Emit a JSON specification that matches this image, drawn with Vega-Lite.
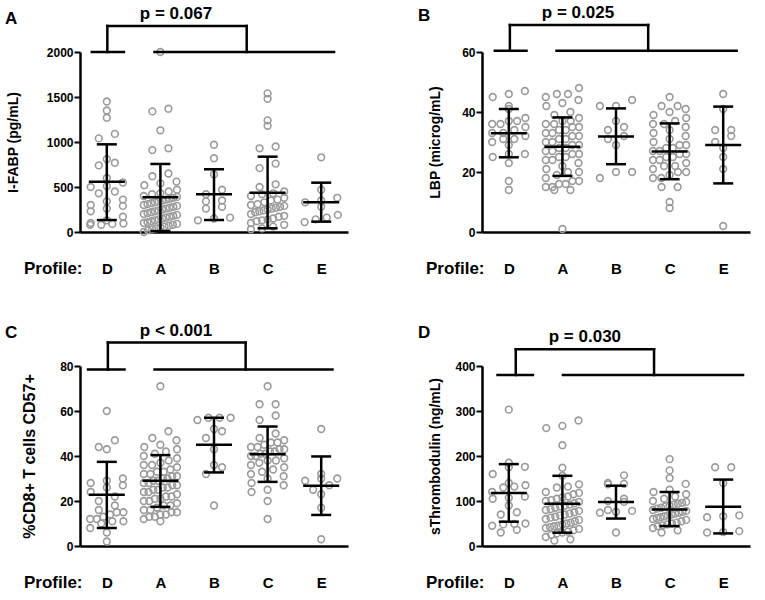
{
  "$schema": "https://vega.github.io/schema/vega-lite/v6.json",
  "padding": {"left": 5, "top": 3, "right": 5, "bottom": 5},
  "columns": 2,
  "bounds": "flush",
  "spacing": {"row": 134, "column": 134},
  "datasets": {
    "fabp": [
      {"group":"D","value":1450},{"group":"D","value":1350},{"group":"D","value":1270},{"group":"D","value":1090},{"group":"D","value":1040},{"group":"D","value":810},{"group":"D","value":770},{"group":"D","value":740},{"group":"D","value":600},{"group":"D","value":550},{"group":"D","value":510},{"group":"D","value":500},{"group":"D","value":450},{"group":"D","value":430},{"group":"D","value":360},{"group":"D","value":340},{"group":"D","value":300},{"group":"D","value":290},{"group":"D","value":260},{"group":"D","value":230},{"group":"D","value":170},{"group":"D","value":130},{"group":"D","value":100},{"group":"D","value":95},{"group":"D","value":90},{"group":"D","value":80},{"group":"D","value":80},
      {"group":"A","value":2000},{"group":"A","value":1370},{"group":"A","value":1340},{"group":"A","value":1130},{"group":"A","value":930},{"group":"A","value":910},{"group":"A","value":650},{"group":"A","value":620},{"group":"A","value":560},{"group":"A","value":540},{"group":"A","value":520},{"group":"A","value":470},{"group":"A","value":450},{"group":"A","value":430},{"group":"A","value":420},{"group":"A","value":400},{"group":"A","value":390},{"group":"A","value":380},{"group":"A","value":370},{"group":"A","value":360},{"group":"A","value":350},{"group":"A","value":340},{"group":"A","value":330},{"group":"A","value":320},{"group":"A","value":310},{"group":"A","value":300},{"group":"A","value":290},{"group":"A","value":280},{"group":"A","value":270},{"group":"A","value":260},{"group":"A","value":250},{"group":"A","value":240},{"group":"A","value":230},{"group":"A","value":220},{"group":"A","value":210},{"group":"A","value":200},{"group":"A","value":190},{"group":"A","value":180},{"group":"A","value":170},{"group":"A","value":160},{"group":"A","value":150},{"group":"A","value":140},{"group":"A","value":130},{"group":"A","value":120},{"group":"A","value":110},{"group":"A","value":100},{"group":"A","value":90},{"group":"A","value":80},{"group":"A","value":70},{"group":"A","value":60},{"group":"A","value":50},{"group":"A","value":40},{"group":"A","value":30},{"group":"A","value":20},{"group":"A","value":0},
      {"group":"B","value":970},{"group":"B","value":820},{"group":"B","value":640},{"group":"B","value":470},{"group":"B","value":420},{"group":"B","value":350},{"group":"B","value":340},{"group":"B","value":280},{"group":"B","value":260},{"group":"B","value":160},{"group":"B","value":150},{"group":"B","value":130},
      {"group":"C","value":1540},{"group":"C","value":1480},{"group":"C","value":1240},{"group":"C","value":1180},{"group":"C","value":950},{"group":"C","value":930},{"group":"C","value":760},{"group":"C","value":710},{"group":"C","value":530},{"group":"C","value":500},{"group":"C","value":450},{"group":"C","value":430},{"group":"C","value":420},{"group":"C","value":400},{"group":"C","value":380},{"group":"C","value":360},{"group":"C","value":350},{"group":"C","value":330},{"group":"C","value":310},{"group":"C","value":300},{"group":"C","value":290},{"group":"C","value":280},{"group":"C","value":270},{"group":"C","value":260},{"group":"C","value":250},{"group":"C","value":240},{"group":"C","value":230},{"group":"C","value":220},{"group":"C","value":200},{"group":"C","value":180},{"group":"C","value":170},{"group":"C","value":150},{"group":"C","value":140},{"group":"C","value":130},{"group":"C","value":120},{"group":"C","value":100},{"group":"C","value":80},{"group":"C","value":60},{"group":"C","value":40},{"group":"C","value":30},
      {"group":"E","value":830},{"group":"E","value":470},{"group":"E","value":380},{"group":"E","value":350},{"group":"E","value":330},{"group":"E","value":280},{"group":"E","value":190},{"group":"E","value":160},{"group":"E","value":140},{"group":"E","value":110}
    ],
    "fabp_stats": [
      {"group":"D","mean":559,"lo":133,"hi":974},
      {"group":"A","mean":385,"lo":10,"hi":756},
      {"group":"B","mean":419,"lo":133,"hi":697},
      {"group":"C","mean":437,"lo":41,"hi":837},
      {"group":"E","mean":330,"lo":115,"hi":548}
    ],
    "lbp": [
      {"group":"D","value":47},{"group":"D","value":46},{"group":"D","value":45},{"group":"D","value":42},{"group":"D","value":41},{"group":"D","value":38},{"group":"D","value":37},{"group":"D","value":37},{"group":"D","value":36},{"group":"D","value":36},{"group":"D","value":35},{"group":"D","value":34},{"group":"D","value":33},{"group":"D","value":33},{"group":"D","value":32},{"group":"D","value":31},{"group":"D","value":31},{"group":"D","value":30},{"group":"D","value":29},{"group":"D","value":26},{"group":"D","value":26},{"group":"D","value":25},{"group":"D","value":23},{"group":"D","value":17},{"group":"D","value":14},
      {"group":"A","value":48},{"group":"A","value":46},{"group":"A","value":46},{"group":"A","value":45},{"group":"A","value":44},{"group":"A","value":43},{"group":"A","value":42},{"group":"A","value":40},{"group":"A","value":39},{"group":"A","value":38},{"group":"A","value":37},{"group":"A","value":37},{"group":"A","value":36},{"group":"A","value":36},{"group":"A","value":35},{"group":"A","value":35},{"group":"A","value":34},{"group":"A","value":34},{"group":"A","value":33},{"group":"A","value":33},{"group":"A","value":32},{"group":"A","value":32},{"group":"A","value":31},{"group":"A","value":31},{"group":"A","value":30},{"group":"A","value":30},{"group":"A","value":29},{"group":"A","value":29},{"group":"A","value":28},{"group":"A","value":28},{"group":"A","value":27},{"group":"A","value":27},{"group":"A","value":26},{"group":"A","value":26},{"group":"A","value":25},{"group":"A","value":25},{"group":"A","value":24},{"group":"A","value":24},{"group":"A","value":23},{"group":"A","value":22},{"group":"A","value":21},{"group":"A","value":20},{"group":"A","value":20},{"group":"A","value":19},{"group":"A","value":18},{"group":"A","value":17},{"group":"A","value":17},{"group":"A","value":16},{"group":"A","value":16},{"group":"A","value":15},{"group":"A","value":15},{"group":"A","value":14},{"group":"A","value":14},{"group":"A","value":1},
      {"group":"B","value":44},{"group":"B","value":42},{"group":"B","value":42},{"group":"B","value":37},{"group":"B","value":35},{"group":"B","value":34},{"group":"B","value":32},{"group":"B","value":31},{"group":"B","value":29},{"group":"B","value":20},{"group":"B","value":20},{"group":"B","value":18},
      {"group":"C","value":45},{"group":"C","value":42},{"group":"C","value":42},{"group":"C","value":41},{"group":"C","value":40},{"group":"C","value":39},{"group":"C","value":38},{"group":"C","value":37},{"group":"C","value":36},{"group":"C","value":36},{"group":"C","value":35},{"group":"C","value":34},{"group":"C","value":33},{"group":"C","value":32},{"group":"C","value":31},{"group":"C","value":30},{"group":"C","value":29},{"group":"C","value":29},{"group":"C","value":28},{"group":"C","value":28},{"group":"C","value":27},{"group":"C","value":27},{"group":"C","value":26},{"group":"C","value":26},{"group":"C","value":25},{"group":"C","value":25},{"group":"C","value":24},{"group":"C","value":24},{"group":"C","value":23},{"group":"C","value":22},{"group":"C","value":22},{"group":"C","value":21},{"group":"C","value":20},{"group":"C","value":20},{"group":"C","value":19},{"group":"C","value":18},{"group":"C","value":18},{"group":"C","value":15},{"group":"C","value":15},{"group":"C","value":10},{"group":"C","value":8},
      {"group":"E","value":46},{"group":"E","value":41},{"group":"E","value":34},{"group":"E","value":34},{"group":"E","value":32},{"group":"E","value":30},{"group":"E","value":28},{"group":"E","value":25},{"group":"E","value":21},{"group":"E","value":2}
    ],
    "lbp_stats": [
      {"group":"D","mean":32.9,"lo":24.9,"hi":41},
      {"group":"A","mean":28.4,"lo":18.7,"hi":38.2},
      {"group":"B","mean":31.8,"lo":22.6,"hi":41.2},
      {"group":"C","mean":26.8,"lo":17.6,"hi":36.2},
      {"group":"E","mean":29,"lo":16.2,"hi":41.8}
    ],
    "cd57": [
      {"group":"D","value":60},{"group":"D","value":47},{"group":"D","value":44},{"group":"D","value":43},{"group":"D","value":30},{"group":"D","value":29},{"group":"D","value":28},{"group":"D","value":27},{"group":"D","value":26},{"group":"D","value":24},{"group":"D","value":22},{"group":"D","value":20},{"group":"D","value":18},{"group":"D","value":16},{"group":"D","value":15},{"group":"D","value":15},{"group":"D","value":14},{"group":"D","value":13},{"group":"D","value":12},{"group":"D","value":12},{"group":"D","value":11},{"group":"D","value":11},{"group":"D","value":10},{"group":"D","value":8},{"group":"D","value":6},{"group":"D","value":2},
      {"group":"A","value":71},{"group":"A","value":51},{"group":"A","value":48},{"group":"A","value":47},{"group":"A","value":45},{"group":"A","value":44},{"group":"A","value":43},{"group":"A","value":42},{"group":"A","value":41},{"group":"A","value":40},{"group":"A","value":39},{"group":"A","value":38},{"group":"A","value":37},{"group":"A","value":36},{"group":"A","value":36},{"group":"A","value":35},{"group":"A","value":34},{"group":"A","value":33},{"group":"A","value":33},{"group":"A","value":32},{"group":"A","value":32},{"group":"A","value":31},{"group":"A","value":31},{"group":"A","value":30},{"group":"A","value":30},{"group":"A","value":29},{"group":"A","value":29},{"group":"A","value":28},{"group":"A","value":28},{"group":"A","value":27},{"group":"A","value":27},{"group":"A","value":26},{"group":"A","value":26},{"group":"A","value":25},{"group":"A","value":25},{"group":"A","value":24},{"group":"A","value":24},{"group":"A","value":23},{"group":"A","value":22},{"group":"A","value":22},{"group":"A","value":21},{"group":"A","value":21},{"group":"A","value":20},{"group":"A","value":20},{"group":"A","value":19},{"group":"A","value":18},{"group":"A","value":18},{"group":"A","value":17},{"group":"A","value":16},{"group":"A","value":16},{"group":"A","value":15},{"group":"A","value":15},{"group":"A","value":14},{"group":"A","value":14},{"group":"A","value":13},{"group":"A","value":13},{"group":"A","value":12},{"group":"A","value":11},
      {"group":"B","value":57},{"group":"B","value":57},{"group":"B","value":57},{"group":"B","value":56},{"group":"B","value":52},{"group":"B","value":51},{"group":"B","value":48},{"group":"B","value":43},{"group":"B","value":36},{"group":"B","value":35},{"group":"B","value":32},{"group":"B","value":18},
      {"group":"C","value":71},{"group":"C","value":63},{"group":"C","value":63},{"group":"C","value":58},{"group":"C","value":56},{"group":"C","value":50},{"group":"C","value":48},{"group":"C","value":47},{"group":"C","value":46},{"group":"C","value":46},{"group":"C","value":45},{"group":"C","value":44},{"group":"C","value":44},{"group":"C","value":43},{"group":"C","value":43},{"group":"C","value":42},{"group":"C","value":42},{"group":"C","value":41},{"group":"C","value":41},{"group":"C","value":40},{"group":"C","value":40},{"group":"C","value":39},{"group":"C","value":38},{"group":"C","value":38},{"group":"C","value":37},{"group":"C","value":36},{"group":"C","value":35},{"group":"C","value":34},{"group":"C","value":33},{"group":"C","value":32},{"group":"C","value":31},{"group":"C","value":30},{"group":"C","value":28},{"group":"C","value":27},{"group":"C","value":25},{"group":"C","value":24},{"group":"C","value":20},{"group":"C","value":12},
      {"group":"E","value":52},{"group":"E","value":32},{"group":"E","value":30},{"group":"E","value":30},{"group":"E","value":29},{"group":"E","value":27},{"group":"E","value":25},{"group":"E","value":23},{"group":"E","value":17},{"group":"E","value":3}
    ],
    "cd57_stats": [
      {"group":"D","mean":22.8,"lo":8,"hi":37.4},
      {"group":"A","mean":29,"lo":17.4,"hi":40.4},
      {"group":"B","mean":45,"lo":32.7,"hi":57},
      {"group":"C","mean":40.8,"lo":28.5,"hi":53.1},
      {"group":"E","mean":26.8,"lo":13.8,"hi":39.8}
    ],
    "stm": [
      {"group":"D","value":303},{"group":"D","value":185},{"group":"D","value":176},{"group":"D","value":175},{"group":"D","value":160},{"group":"D","value":140},{"group":"D","value":135},{"group":"D","value":132},{"group":"D","value":130},{"group":"D","value":120},{"group":"D","value":110},{"group":"D","value":107},{"group":"D","value":105},{"group":"D","value":90},{"group":"D","value":75},{"group":"D","value":70},{"group":"D","value":50},{"group":"D","value":49},{"group":"D","value":48},{"group":"D","value":45},{"group":"D","value":36},{"group":"D","value":30},
      {"group":"A","value":279},{"group":"A","value":267},{"group":"A","value":262},{"group":"A","value":224},{"group":"A","value":174},{"group":"A","value":156},{"group":"A","value":137},{"group":"A","value":132},{"group":"A","value":130},{"group":"A","value":120},{"group":"A","value":118},{"group":"A","value":115},{"group":"A","value":110},{"group":"A","value":108},{"group":"A","value":105},{"group":"A","value":102},{"group":"A","value":100},{"group":"A","value":98},{"group":"A","value":95},{"group":"A","value":92},{"group":"A","value":90},{"group":"A","value":88},{"group":"A","value":85},{"group":"A","value":82},{"group":"A","value":80},{"group":"A","value":78},{"group":"A","value":75},{"group":"A","value":72},{"group":"A","value":70},{"group":"A","value":68},{"group":"A","value":65},{"group":"A","value":63},{"group":"A","value":60},{"group":"A","value":58},{"group":"A","value":55},{"group":"A","value":52},{"group":"A","value":50},{"group":"A","value":48},{"group":"A","value":45},{"group":"A","value":44},{"group":"A","value":42},{"group":"A","value":40},{"group":"A","value":38},{"group":"A","value":35},{"group":"A","value":32},{"group":"A","value":30},{"group":"A","value":28},{"group":"A","value":25},{"group":"A","value":20},{"group":"A","value":15},{"group":"A","value":12},
      {"group":"B","value":157},{"group":"B","value":140},{"group":"B","value":138},{"group":"B","value":137},{"group":"B","value":105},{"group":"B","value":100},{"group":"B","value":98},{"group":"B","value":80},{"group":"B","value":78},{"group":"B","value":76},{"group":"B","value":74},{"group":"B","value":30},
      {"group":"C","value":193},{"group":"C","value":168},{"group":"C","value":151},{"group":"C","value":138},{"group":"C","value":125},{"group":"C","value":120},{"group":"C","value":115},{"group":"C","value":110},{"group":"C","value":105},{"group":"C","value":100},{"group":"C","value":98},{"group":"C","value":96},{"group":"C","value":94},{"group":"C","value":92},{"group":"C","value":90},{"group":"C","value":88},{"group":"C","value":85},{"group":"C","value":83},{"group":"C","value":80},{"group":"C","value":78},{"group":"C","value":76},{"group":"C","value":74},{"group":"C","value":72},{"group":"C","value":70},{"group":"C","value":68},{"group":"C","value":66},{"group":"C","value":64},{"group":"C","value":62},{"group":"C","value":60},{"group":"C","value":58},{"group":"C","value":55},{"group":"C","value":52},{"group":"C","value":50},{"group":"C","value":48},{"group":"C","value":46},{"group":"C","value":44},{"group":"C","value":40},{"group":"C","value":35},{"group":"C","value":30},
      {"group":"E","value":175},{"group":"E","value":175},{"group":"E","value":140},{"group":"E","value":68},{"group":"E","value":66},{"group":"E","value":64},{"group":"E","value":33},{"group":"E","value":31},{"group":"E","value":30}
    ],
    "stm_stats": [
      {"group":"D","mean":118,"lo":54,"hi":182},
      {"group":"A","mean":93.8,"lo":29.6,"hi":156},
      {"group":"B","mean":98,"lo":61,"hi":134},
      {"group":"C","mean":81,"lo":44.3,"hi":120},
      {"group":"E","mean":87,"lo":28,"hi":147.6}
    ]
  },
  "concat": [
    {
      "width": 268,
      "height": 180,
      "title": {"text": "A", "dx": -75, "dy": 26.5},
      "layer": [
        {
          "data": {"name": "fabp"},
          "transform": [
            {"calculate": "indexof(['D','A','B','C','E'], datum.group) + 1", "as": "pos"},
            {"bin": {"step": 100}, "field": "value", "as": "vb"},
            {"window": [{"op": "row_number", "as": "k"}], "groupby": ["group", "vb"], "sort": [{"field": "value"}]},
            {"joinaggregate": [{"op": "count", "as": "n"}], "groupby": ["group", "vb"]},
            {"calculate": "datum.pos + (datum.k - (datum.n + 1) / 2) * min(0.3, 0.62 / max(datum.n - 1, 1))", "as": "xj"}
          ],
          "mark": {"type": "point", "shape": "circle", "filled": false, "size": 45, "strokeWidth": 1.6, "color": "#9b9b9b", "opacity": 1},
          "encoding": {
            "x": {"field": "xj", "type": "quantitative", "scale": {"domain": [0.5, 5.5], "nice": false, "zero": false},
                  "axis": {"values": [1, 2, 3, 4, 5], "labelExpr": "['D','A','B','C','E'][datum.value - 1]", "title": "Profile:"}},
            "y": {"field": "value", "type": "quantitative", "scale": {"domain": [0, 2000], "nice": false},
                  "axis": {"values": [0, 500, 1000, 1500, 2000], "format": "d", "title": "I-FABP (pg/mL)", "titleX": -67}}
          }
        },
        {
          "data": {"name": "fabp_stats"},
          "transform": [{"calculate": "indexof(['D','A','B','C','E'], datum.group) + 1", "as": "pos"}],
          "mark": {"type": "rule", "color": "black", "strokeWidth": 2.5},
          "encoding": {"x": {"field": "pos", "type": "quantitative"}, "y": {"field": "lo", "type": "quantitative"}, "y2": {"field": "hi"}}
        },
        {
          "data": {"name": "fabp_stats"},
          "transform": [{"calculate": "indexof(['D','A','B','C','E'], datum.group) + 1", "as": "pos"}],
          "mark": {"type": "tick", "orient": "horizontal", "size": 36, "thickness": 2.5, "color": "black", "opacity": 1},
          "encoding": {"x": {"field": "pos", "type": "quantitative"}, "y": {"field": "mean", "type": "quantitative"}}
        },
        {
          "data": {"name": "fabp_stats"},
          "transform": [{"calculate": "indexof(['D','A','B','C','E'], datum.group) + 1", "as": "pos"}, {"fold": ["lo", "hi"], "as": ["end", "v"]}],
          "mark": {"type": "tick", "orient": "horizontal", "size": 20, "thickness": 2.5, "color": "black", "opacity": 1},
          "encoding": {"x": {"field": "pos", "type": "quantitative"}, "y": {"field": "v", "type": "quantitative"}}
        },
        {"data": {"values": [{}]}, "mark": {"type": "rule", "color": "black", "strokeWidth": 2.5, "strokeCap": "square"},
         "encoding": {"x": {"datum": 0.72}, "x2": {"datum": 1.32}, "y": {"datum": 2000}}},
        {"data": {"values": [{}]}, "mark": {"type": "rule", "color": "black", "strokeWidth": 2.5, "strokeCap": "square"},
         "encoding": {"x": {"datum": 1.89}, "x2": {"datum": 5.24}, "y": {"datum": 2000}}},
        {"data": {"values": [{}]}, "mark": {"type": "rule", "color": "black", "strokeWidth": 2.5, "strokeCap": "square"},
         "encoding": {"x": {"datum": 1.01}, "y": {"datum": 2000}, "y2": {"datum": 2289}}},
        {"data": {"values": [{}]}, "mark": {"type": "rule", "color": "black", "strokeWidth": 2.5, "strokeCap": "square"},
         "encoding": {"x": {"datum": 3.61}, "y": {"datum": 2000}, "y2": {"datum": 2289}}},
        {"data": {"values": [{}]}, "mark": {"type": "rule", "color": "black", "strokeWidth": 2.5, "strokeCap": "square"},
         "encoding": {"x": {"datum": 1.01}, "x2": {"datum": 3.61}, "y": {"datum": 2289}}},
        {"data": {"values": [{}]}, "mark": {"type": "text", "fontSize": 17, "fontWeight": "bold", "baseline": "middle", "color": "black"},
         "encoding": {"x": {"datum": 2.29}, "y": {"datum": 2422}, "text": {"value": "p = 0.067"}}}
      ]
    },
    {
      "width": 268,
      "height": 180,
      "title": {"text": "B", "dx": -64, "dy": 25.3},
      "layer": [
        {
          "data": {"name": "lbp"},
          "transform": [
            {"calculate": "indexof(['D','A','B','C','E'], datum.group) + 1", "as": "pos"},
            {"bin": {"step": 3}, "field": "value", "as": "vb"},
            {"window": [{"op": "row_number", "as": "k"}], "groupby": ["group", "vb"], "sort": [{"field": "value"}]},
            {"joinaggregate": [{"op": "count", "as": "n"}], "groupby": ["group", "vb"]},
            {"calculate": "datum.pos + (datum.k - (datum.n + 1) / 2) * min(0.3, 0.62 / max(datum.n - 1, 1))", "as": "xj"}
          ],
          "mark": {"type": "point", "shape": "circle", "filled": false, "size": 45, "strokeWidth": 1.6, "color": "#9b9b9b", "opacity": 1},
          "encoding": {
            "x": {"field": "xj", "type": "quantitative", "scale": {"domain": [0.5, 5.5], "nice": false, "zero": false},
                  "axis": {"values": [1, 2, 3, 4, 5], "labelExpr": "['D','A','B','C','E'][datum.value - 1]", "title": "Profile:"}},
            "y": {"field": "value", "type": "quantitative", "scale": {"domain": [0, 60], "nice": false},
                  "axis": {"values": [0, 20, 40, 60], "format": "d", "title": "LBP (microg/mL)", "titleX": -47}}
          }
        },
        {
          "data": {"name": "lbp_stats"},
          "transform": [{"calculate": "indexof(['D','A','B','C','E'], datum.group) + 1", "as": "pos"}],
          "mark": {"type": "rule", "color": "black", "strokeWidth": 2.5},
          "encoding": {"x": {"field": "pos", "type": "quantitative"}, "y": {"field": "lo", "type": "quantitative"}, "y2": {"field": "hi"}}
        },
        {
          "data": {"name": "lbp_stats"},
          "transform": [{"calculate": "indexof(['D','A','B','C','E'], datum.group) + 1", "as": "pos"}],
          "mark": {"type": "tick", "orient": "horizontal", "size": 36, "thickness": 2.5, "color": "black", "opacity": 1},
          "encoding": {"x": {"field": "pos", "type": "quantitative"}, "y": {"field": "mean", "type": "quantitative"}}
        },
        {
          "data": {"name": "lbp_stats"},
          "transform": [{"calculate": "indexof(['D','A','B','C','E'], datum.group) + 1", "as": "pos"}, {"fold": ["lo", "hi"], "as": ["end", "v"]}],
          "mark": {"type": "tick", "orient": "horizontal", "size": 20, "thickness": 2.5, "color": "black", "opacity": 1},
          "encoding": {"x": {"field": "pos", "type": "quantitative"}, "y": {"field": "v", "type": "quantitative"}}
        },
        {"data": {"values": [{}]}, "mark": {"type": "rule", "color": "black", "strokeWidth": 2.5, "strokeCap": "square"},
         "encoding": {"x": {"datum": 0.74}, "x2": {"datum": 1.33}, "y": {"datum": 60.4}}},
        {"data": {"values": [{}]}, "mark": {"type": "rule", "color": "black", "strokeWidth": 2.5, "strokeCap": "square"},
         "encoding": {"x": {"datum": 1.89}, "x2": {"datum": 5.25}, "y": {"datum": 60.4}}},
        {"data": {"values": [{}]}, "mark": {"type": "rule", "color": "black", "strokeWidth": 2.5, "strokeCap": "square"},
         "encoding": {"x": {"datum": 1.02}, "y": {"datum": 60.4}, "y2": {"datum": 69}}},
        {"data": {"values": [{}]}, "mark": {"type": "rule", "color": "black", "strokeWidth": 2.5, "strokeCap": "square"},
         "encoding": {"x": {"datum": 3.6}, "y": {"datum": 60.4}, "y2": {"datum": 69}}},
        {"data": {"values": [{}]}, "mark": {"type": "rule", "color": "black", "strokeWidth": 2.5, "strokeCap": "square"},
         "encoding": {"x": {"datum": 1.02}, "x2": {"datum": 3.6}, "y": {"datum": 69}}},
        {"data": {"values": [{}]}, "mark": {"type": "text", "fontSize": 17, "fontWeight": "bold", "baseline": "middle", "color": "black"},
         "encoding": {"x": {"datum": 2.29}, "y": {"datum": 73.1}, "text": {"value": "p = 0.025"}}}
      ]
    },
    {
      "width": 268,
      "height": 180,
      "title": {"text": "C", "dx": -75, "dy": 23.4},
      "layer": [
        {
          "data": {"name": "cd57"},
          "transform": [
            {"calculate": "indexof(['D','A','B','C','E'], datum.group) + 1", "as": "pos"},
            {"bin": {"step": 4}, "field": "value", "as": "vb"},
            {"window": [{"op": "row_number", "as": "k"}], "groupby": ["group", "vb"], "sort": [{"field": "value"}]},
            {"joinaggregate": [{"op": "count", "as": "n"}], "groupby": ["group", "vb"]},
            {"calculate": "datum.pos + (datum.k - (datum.n + 1) / 2) * min(0.3, 0.62 / max(datum.n - 1, 1))", "as": "xj"}
          ],
          "mark": {"type": "point", "shape": "circle", "filled": false, "size": 45, "strokeWidth": 1.6, "color": "#9b9b9b", "opacity": 1},
          "encoding": {
            "x": {"field": "xj", "type": "quantitative", "scale": {"domain": [0.5, 5.5], "nice": false, "zero": false},
                  "axis": {"values": [1, 2, 3, 4, 5], "labelExpr": "['D','A','B','C','E'][datum.value - 1]", "title": "Profile:"}},
            "y": {"field": "value", "type": "quantitative", "scale": {"domain": [0, 80], "nice": false},
                  "axis": {"values": [0, 20, 40, 60, 80], "format": "d", "title": "%CD8+ T cells CD57+", "titleX": -51, "titleFontSize": 16}}
          }
        },
        {
          "data": {"name": "cd57_stats"},
          "transform": [{"calculate": "indexof(['D','A','B','C','E'], datum.group) + 1", "as": "pos"}],
          "mark": {"type": "rule", "color": "black", "strokeWidth": 2.5},
          "encoding": {"x": {"field": "pos", "type": "quantitative"}, "y": {"field": "lo", "type": "quantitative"}, "y2": {"field": "hi"}}
        },
        {
          "data": {"name": "cd57_stats"},
          "transform": [{"calculate": "indexof(['D','A','B','C','E'], datum.group) + 1", "as": "pos"}],
          "mark": {"type": "tick", "orient": "horizontal", "size": 36, "thickness": 2.5, "color": "black", "opacity": 1},
          "encoding": {"x": {"field": "pos", "type": "quantitative"}, "y": {"field": "mean", "type": "quantitative"}}
        },
        {
          "data": {"name": "cd57_stats"},
          "transform": [{"calculate": "indexof(['D','A','B','C','E'], datum.group) + 1", "as": "pos"}, {"fold": ["lo", "hi"], "as": ["end", "v"]}],
          "mark": {"type": "tick", "orient": "horizontal", "size": 20, "thickness": 2.5, "color": "black", "opacity": 1},
          "encoding": {"x": {"field": "pos", "type": "quantitative"}, "y": {"field": "v", "type": "quantitative"}}
        },
        {"data": {"values": [{}]}, "mark": {"type": "rule", "color": "black", "strokeWidth": 2.5, "strokeCap": "square"},
         "encoding": {"x": {"datum": 0.65}, "x2": {"datum": 1.33}, "y": {"datum": 78.4}}},
        {"data": {"values": [{}]}, "mark": {"type": "rule", "color": "black", "strokeWidth": 2.5, "strokeCap": "square"},
         "encoding": {"x": {"datum": 1.89}, "x2": {"datum": 5.21}, "y": {"datum": 78.4}}},
        {"data": {"values": [{}]}, "mark": {"type": "rule", "color": "black", "strokeWidth": 2.5, "strokeCap": "square"},
         "encoding": {"x": {"datum": 1.02}, "y": {"datum": 78.4}, "y2": {"datum": 90.4}}},
        {"data": {"values": [{}]}, "mark": {"type": "rule", "color": "black", "strokeWidth": 2.5, "strokeCap": "square"},
         "encoding": {"x": {"datum": 3.59}, "y": {"datum": 78.4}, "y2": {"datum": 90.4}}},
        {"data": {"values": [{}]}, "mark": {"type": "rule", "color": "black", "strokeWidth": 2.5, "strokeCap": "square"},
         "encoding": {"x": {"datum": 1.02}, "x2": {"datum": 3.59}, "y": {"datum": 90.4}}},
        {"data": {"values": [{}]}, "mark": {"type": "text", "fontSize": 17, "fontWeight": "bold", "baseline": "middle", "color": "black"},
         "encoding": {"x": {"datum": 2.29}, "y": {"datum": 95.5}, "text": {"value": "p < 0.001"}}}
      ]
    },
    {
      "width": 268,
      "height": 180,
      "title": {"text": "D", "dx": -64, "dy": 17.75},
      "layer": [
        {
          "data": {"name": "stm"},
          "transform": [
            {"calculate": "indexof(['D','A','B','C','E'], datum.group) + 1", "as": "pos"},
            {"bin": {"step": 20}, "field": "value", "as": "vb"},
            {"window": [{"op": "row_number", "as": "k"}], "groupby": ["group", "vb"], "sort": [{"field": "value"}]},
            {"joinaggregate": [{"op": "count", "as": "n"}], "groupby": ["group", "vb"]},
            {"calculate": "datum.pos + (datum.k - (datum.n + 1) / 2) * min(0.3, 0.62 / max(datum.n - 1, 1))", "as": "xj"}
          ],
          "mark": {"type": "point", "shape": "circle", "filled": false, "size": 45, "strokeWidth": 1.6, "color": "#9b9b9b", "opacity": 1},
          "encoding": {
            "x": {"field": "xj", "type": "quantitative", "scale": {"domain": [0.5, 5.5], "nice": false, "zero": false},
                  "axis": {"values": [1, 2, 3, 4, 5], "labelExpr": "['D','A','B','C','E'][datum.value - 1]", "title": "Profile:"}},
            "y": {"field": "value", "type": "quantitative", "scale": {"domain": [0, 400], "nice": false},
                  "axis": {"values": [0, 100, 200, 300, 400], "format": "d", "title": "sThrombodulin (ng/mL)", "titleX": -47}}
          }
        },
        {
          "data": {"name": "stm_stats"},
          "transform": [{"calculate": "indexof(['D','A','B','C','E'], datum.group) + 1", "as": "pos"}],
          "mark": {"type": "rule", "color": "black", "strokeWidth": 2.5},
          "encoding": {"x": {"field": "pos", "type": "quantitative"}, "y": {"field": "lo", "type": "quantitative"}, "y2": {"field": "hi"}}
        },
        {
          "data": {"name": "stm_stats"},
          "transform": [{"calculate": "indexof(['D','A','B','C','E'], datum.group) + 1", "as": "pos"}],
          "mark": {"type": "tick", "orient": "horizontal", "size": 36, "thickness": 2.5, "color": "black", "opacity": 1},
          "encoding": {"x": {"field": "pos", "type": "quantitative"}, "y": {"field": "mean", "type": "quantitative"}}
        },
        {
          "data": {"name": "stm_stats"},
          "transform": [{"calculate": "indexof(['D','A','B','C','E'], datum.group) + 1", "as": "pos"}, {"fold": ["lo", "hi"], "as": ["end", "v"]}],
          "mark": {"type": "tick", "orient": "horizontal", "size": 20, "thickness": 2.5, "color": "black", "opacity": 1},
          "encoding": {"x": {"field": "pos", "type": "quantitative"}, "y": {"field": "v", "type": "quantitative"}}
        },
        {"data": {"values": [{}]}, "mark": {"type": "rule", "color": "black", "strokeWidth": 2.5, "strokeCap": "square"},
         "encoding": {"x": {"datum": 0.79}, "x2": {"datum": 1.45}, "y": {"datum": 380}}},
        {"data": {"values": [{}]}, "mark": {"type": "rule", "color": "black", "strokeWidth": 2.5, "strokeCap": "square"},
         "encoding": {"x": {"datum": 2.01}, "x2": {"datum": 5.37}, "y": {"datum": 380}}},
        {"data": {"values": [{}]}, "mark": {"type": "rule", "color": "black", "strokeWidth": 2.5, "strokeCap": "square"},
         "encoding": {"x": {"datum": 1.13}, "y": {"datum": 380}, "y2": {"datum": 437}}},
        {"data": {"values": [{}]}, "mark": {"type": "rule", "color": "black", "strokeWidth": 2.5, "strokeCap": "square"},
         "encoding": {"x": {"datum": 3.71}, "y": {"datum": 380}, "y2": {"datum": 437}}},
        {"data": {"values": [{}]}, "mark": {"type": "rule", "color": "black", "strokeWidth": 2.5, "strokeCap": "square"},
         "encoding": {"x": {"datum": 1.13}, "x2": {"datum": 3.71}, "y": {"datum": 437}}},
        {"data": {"values": [{}]}, "mark": {"type": "text", "fontSize": 17, "fontWeight": "bold", "baseline": "middle", "color": "black"},
         "encoding": {"x": {"datum": 2.42}, "y": {"datum": 465}, "text": {"value": "p = 0.030"}}}
      ]
    }
  ],
  "config": {
    "font": "Liberation Sans",
    "view": {"stroke": null},
    "axis": {
      "grid": false,
      "domainColor": "black",
      "domainWidth": 2.5,
      "tickColor": "black",
      "tickWidth": 2,
      "tickSize": 6,
      "labelColor": "black",
      "labelFontWeight": "bold",
      "labelFontSize": 12,
      "labelPadding": 1,
      "titleColor": "black",
      "titleFontWeight": "bold",
      "titleFontSize": 14
    },
    "axisX": {
      "ticks": false,
      "tickSize": 0,
      "labelPadding": 36,
      "labelBaseline": "middle",
      "labelFontSize": 15,
      "labelAngle": 0,
      "titleX": 2,
      "titleY": 36,
      "titleAlign": "right",
      "titleBaseline": "middle",
      "titleAngle": 0,
      "titleFontSize": 17
    },
    "axisY": {
      "titleAngle": -90,
      "titleBaseline": "middle",
      "titleAlign": "center"
    },
    "title": {
      "anchor": "start",
      "frame": "group",
      "offset": 0,
      "fontSize": 17,
      "fontWeight": "bold",
      "baseline": "alphabetic",
      "color": "black"
    }
  }
}
